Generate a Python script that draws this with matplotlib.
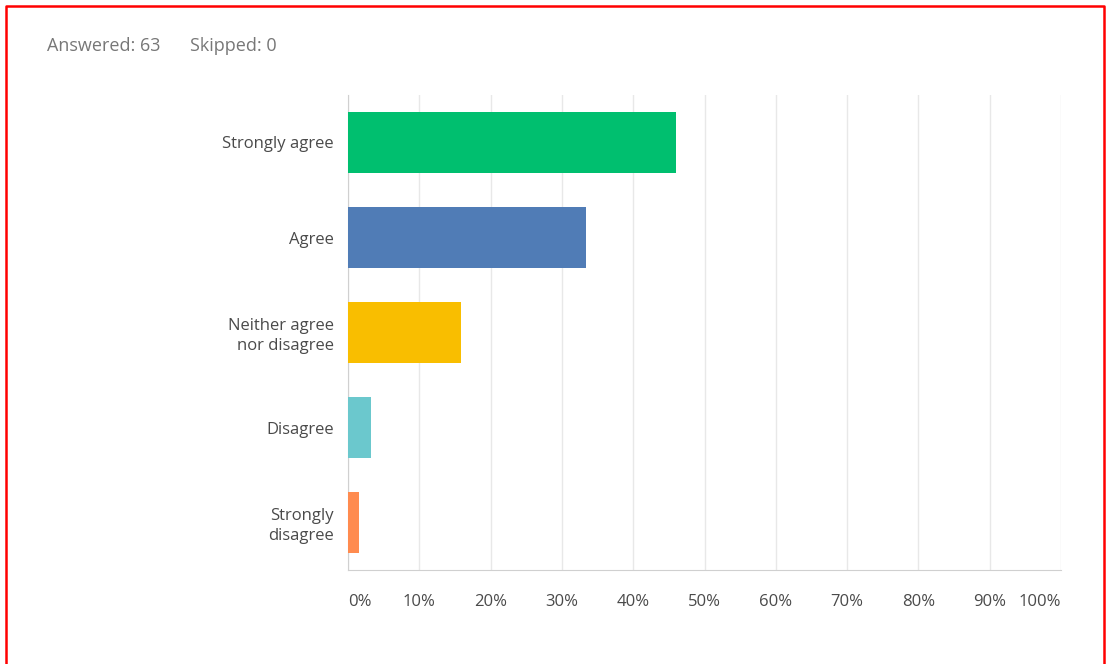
import matplotlib.pyplot as plt
from matplotlib.lines import Line2D
from matplotlib.ticker import FixedLocator

plt.rcParams["font.family"] = ["Open Sans", "DejaVu Sans"]

categories = ["Strongly agree", "Agree", "Neither agree\nnor disagree", "Disagree", "Strongly\ndisagree"]
counts = [29, 21, 10, 2, 1]
answered = 63
skipped = 0
percents = [c / answered * 100 for c in counts]
colors = ["#00BF6F", "#507CB6", "#F9BE00", "#6BC8CD", "#FF8B4F"]
xticks = list(range(0, 101, 10))
xtick_labels = [f"{t}%" for t in xticks]

fig = plt.figure(figsize=(11.09, 6.64), dpi=100)
ax = fig.add_axes([348 / 1109, 1 - 570 / 664, 713 / 1109, 475 / 664])

ypos = list(range(len(categories)))
ax.barh(ypos, percents, height=0.65, color=colors, zorder=3)

ax.set_xlim(0, 100)
ax.set_ylim(len(categories) - 0.5, -0.5)
ax.set_yticks(ypos)
ax.set_yticklabels(categories, fontsize=12, color="#4A4A4A", linespacing=1.3)
ax.xaxis.set_major_locator(FixedLocator(xticks))
ax.set_xticklabels(xtick_labels, fontsize=12, color="#4A4A4A")
ax.tick_params(axis="both", length=0)
ax.tick_params(axis="y", pad=10)
ax.tick_params(axis="x", pad=17)

# first and last labels stay inside the axes
labels = ax.get_xticklabels()
labels[0].set_horizontalalignment("left")
labels[-1].set_horizontalalignment("right")

ax.grid(axis="x", color="#E8E8E8", linewidth=1, zorder=0)
for side in ["top", "right"]:
    ax.spines[side].set_visible(False)
ax.spines["left"].set_color("#D0D0D0")
ax.spines["bottom"].set_color("#D0D0D0")

fig.text(47 / 1109, 1 - 46 / 664, f"Answered: {answered}", fontsize=13,
         color="#777777", va="center")
fig.text(190 / 1109, 1 - 46 / 664, f"Skipped: {skipped}", fontsize=13,
         color="#777777", va="center")

# red frame around the panel
x0, x1 = 6 / 1109, 1104 / 1109
y0, y1 = -0.01, 1 - 6 / 664
fig.add_artist(Line2D([x0, x0, x1, x1], [y0, y1, y1, y0],
                      transform=fig.transFigure, color="#FF0000", linewidth=1.8))

fig.savefig("out.png", dpi=100, facecolor="white")
